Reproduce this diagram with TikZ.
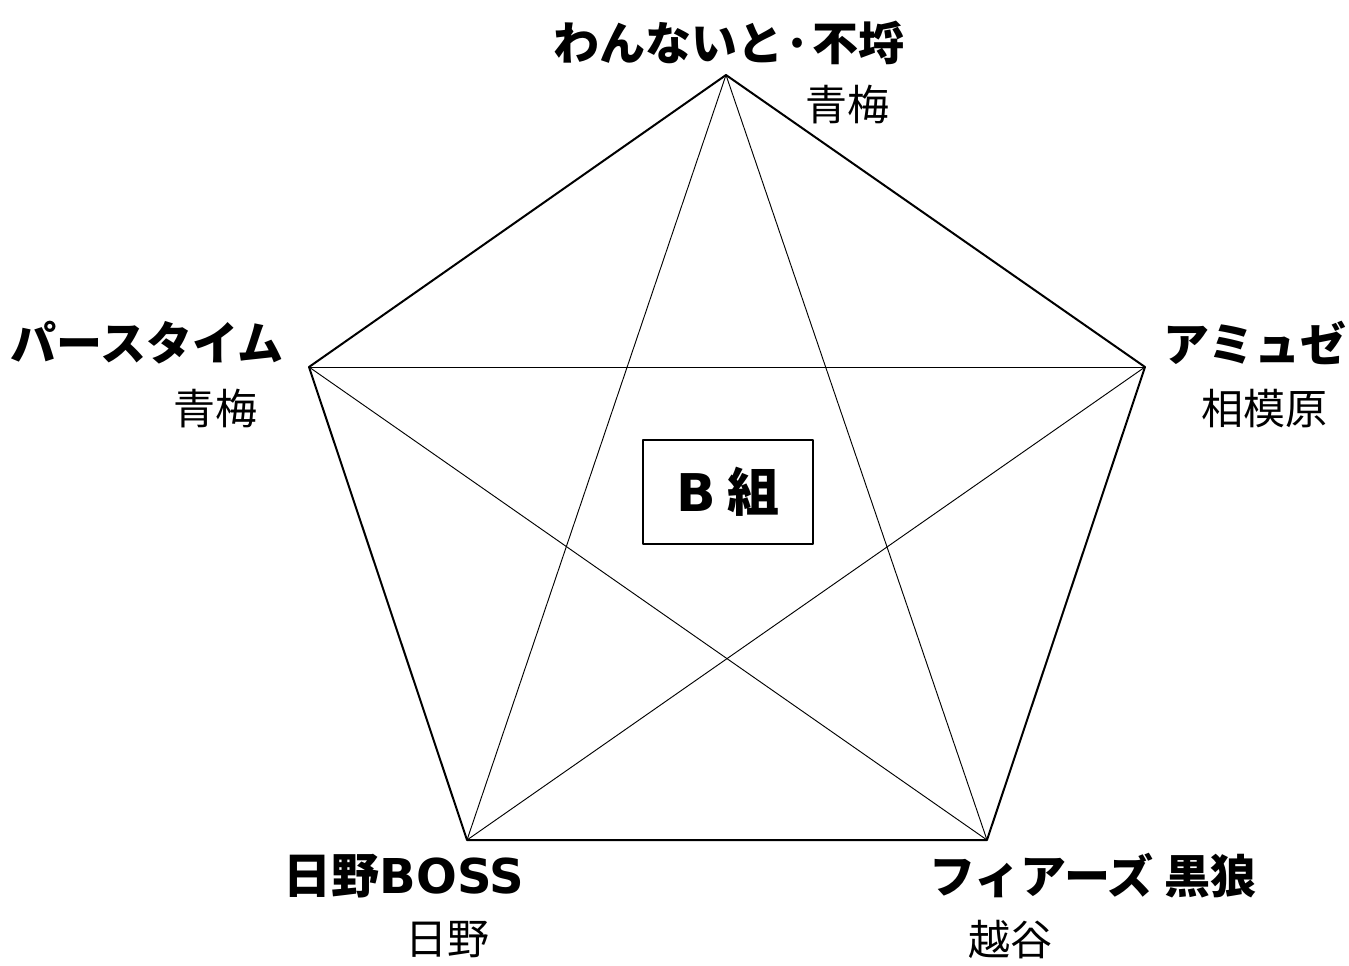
\documentclass[tikz,border=0pt]{standalone}
\usepackage{fontspec}
\setmainfont{Noto Sans CJK JP}
\newfontfamily\latinfont{DejaVu Sans}
\usepackage{tikz}
\usetikzlibrary{arrows}

\begin{document}
\begin{tikzpicture}[line cap=round,line join=round,x=0.75pt,y=-0.75pt,
  team/.style={font=\bfseries\fontsize{34.5}{38}\selectfont,inner sep=0pt},
  town/.style={font=\fontsize{31.5}{36}\selectfont,inner sep=0pt}]
\useasboundingbox (0,0) rectangle (1349,965);
\coordinate (T) at (726,75);
\coordinate (R) at (1145,367);
\coordinate (BR) at (987,840);
\coordinate (BL) at (467,840);
\coordinate (L) at (309,367);
\draw[line width=1.5pt] (T) -- (R) -- (BR) -- (BL) -- (L) -- cycle;
\draw[line width=0.7pt] (T) -- (BR);
\draw[line width=0.7pt] (T) -- (BL);
\draw[line width=0.7pt] (L) -- (R);
\draw[line width=0.7pt] (L) -- (BR);
\draw[line width=0.7pt] (R) -- (BL);
\node[draw,line width=1.5pt,fill=white,minimum width=127.5pt,minimum height=78pt,font=\bfseries\fontsize{39}{44}\selectfont] (grp) at (728,492) {{\latinfont B} 組};
\node[team] (wn) at (729,43) {わんないと·不埒};
\node[town] (wnt) at (847,105) {青梅};
\node[team] (pt) at (147,343) {パースタイム};
\node[town] (ptt) at (215,409) {青梅};
\node[team] (am) at (1255,343) {アミュゼ};
\node[town] (amt) at (1264,409) {相模原};
\node[team,font=\bfseries\fontsize{36}{40}\selectfont] (hb) at (404,876) {日野{\latinfont BOSS}};
\node[town] (hbt) at (447,940) {日野};
\node[team] (fk) at (1093,876) {フィアーズ 黒狼};
\node[town] (fkt) at (1010,940) {越谷};
\end{tikzpicture}
\end{document}
